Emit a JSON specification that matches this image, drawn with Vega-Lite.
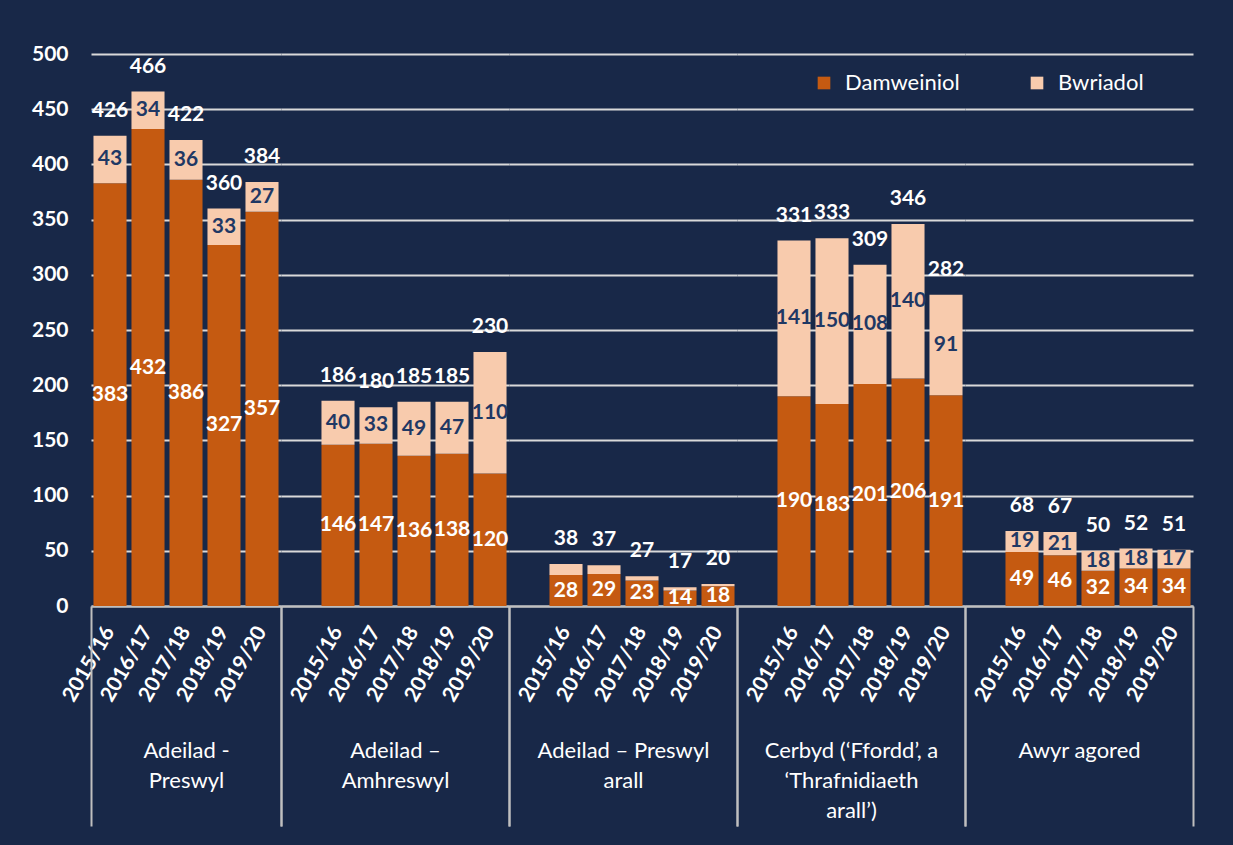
{
  "$schema": "https://vega.github.io/schema/vega-lite/v6.json",
  "background": "#182848",
  "padding": {"left": 31, "top": 43, "right": 44, "bottom": 20},
  "bounds": "flush",
  "spacing": 0,
  "data": {"values": [
    {"group": "Adeilad - Preswyl", "year": "2015/16", "series": "Damweiniol", "value": 383},
    {"group": "Adeilad - Preswyl", "year": "2015/16", "series": "Bwriadol", "value": 43},
    {"group": "Adeilad - Preswyl", "year": "2016/17", "series": "Damweiniol", "value": 432},
    {"group": "Adeilad - Preswyl", "year": "2016/17", "series": "Bwriadol", "value": 34},
    {"group": "Adeilad - Preswyl", "year": "2017/18", "series": "Damweiniol", "value": 386},
    {"group": "Adeilad - Preswyl", "year": "2017/18", "series": "Bwriadol", "value": 36},
    {"group": "Adeilad - Preswyl", "year": "2018/19", "series": "Damweiniol", "value": 327},
    {"group": "Adeilad - Preswyl", "year": "2018/19", "series": "Bwriadol", "value": 33},
    {"group": "Adeilad - Preswyl", "year": "2019/20", "series": "Damweiniol", "value": 357},
    {"group": "Adeilad - Preswyl", "year": "2019/20", "series": "Bwriadol", "value": 27},
    {"group": "Adeilad – Amhreswyl", "year": "2015/16", "series": "Damweiniol", "value": 146},
    {"group": "Adeilad – Amhreswyl", "year": "2015/16", "series": "Bwriadol", "value": 40},
    {"group": "Adeilad – Amhreswyl", "year": "2016/17", "series": "Damweiniol", "value": 147},
    {"group": "Adeilad – Amhreswyl", "year": "2016/17", "series": "Bwriadol", "value": 33},
    {"group": "Adeilad – Amhreswyl", "year": "2017/18", "series": "Damweiniol", "value": 136},
    {"group": "Adeilad – Amhreswyl", "year": "2017/18", "series": "Bwriadol", "value": 49},
    {"group": "Adeilad – Amhreswyl", "year": "2018/19", "series": "Damweiniol", "value": 138},
    {"group": "Adeilad – Amhreswyl", "year": "2018/19", "series": "Bwriadol", "value": 47},
    {"group": "Adeilad – Amhreswyl", "year": "2019/20", "series": "Damweiniol", "value": 120},
    {"group": "Adeilad – Amhreswyl", "year": "2019/20", "series": "Bwriadol", "value": 110},
    {"group": "Adeilad – Preswyl arall", "year": "2015/16", "series": "Damweiniol", "value": 28},
    {"group": "Adeilad – Preswyl arall", "year": "2015/16", "series": "Bwriadol", "value": 10},
    {"group": "Adeilad – Preswyl arall", "year": "2016/17", "series": "Damweiniol", "value": 29},
    {"group": "Adeilad – Preswyl arall", "year": "2016/17", "series": "Bwriadol", "value": 8},
    {"group": "Adeilad – Preswyl arall", "year": "2017/18", "series": "Damweiniol", "value": 23},
    {"group": "Adeilad – Preswyl arall", "year": "2017/18", "series": "Bwriadol", "value": 4},
    {"group": "Adeilad – Preswyl arall", "year": "2018/19", "series": "Damweiniol", "value": 14},
    {"group": "Adeilad – Preswyl arall", "year": "2018/19", "series": "Bwriadol", "value": 3},
    {"group": "Adeilad – Preswyl arall", "year": "2019/20", "series": "Damweiniol", "value": 18},
    {"group": "Adeilad – Preswyl arall", "year": "2019/20", "series": "Bwriadol", "value": 2},
    {"group": "Cerbyd", "year": "2015/16", "series": "Damweiniol", "value": 190},
    {"group": "Cerbyd", "year": "2015/16", "series": "Bwriadol", "value": 141},
    {"group": "Cerbyd", "year": "2016/17", "series": "Damweiniol", "value": 183},
    {"group": "Cerbyd", "year": "2016/17", "series": "Bwriadol", "value": 150},
    {"group": "Cerbyd", "year": "2017/18", "series": "Damweiniol", "value": 201},
    {"group": "Cerbyd", "year": "2017/18", "series": "Bwriadol", "value": 108},
    {"group": "Cerbyd", "year": "2018/19", "series": "Damweiniol", "value": 206},
    {"group": "Cerbyd", "year": "2018/19", "series": "Bwriadol", "value": 140},
    {"group": "Cerbyd", "year": "2019/20", "series": "Damweiniol", "value": 191},
    {"group": "Cerbyd", "year": "2019/20", "series": "Bwriadol", "value": 91},
    {"group": "Awyr agored", "year": "2015/16", "series": "Damweiniol", "value": 49},
    {"group": "Awyr agored", "year": "2015/16", "series": "Bwriadol", "value": 19},
    {"group": "Awyr agored", "year": "2016/17", "series": "Damweiniol", "value": 46},
    {"group": "Awyr agored", "year": "2016/17", "series": "Bwriadol", "value": 21},
    {"group": "Awyr agored", "year": "2017/18", "series": "Damweiniol", "value": 32},
    {"group": "Awyr agored", "year": "2017/18", "series": "Bwriadol", "value": 18},
    {"group": "Awyr agored", "year": "2018/19", "series": "Damweiniol", "value": 34},
    {"group": "Awyr agored", "year": "2018/19", "series": "Bwriadol", "value": 18},
    {"group": "Awyr agored", "year": "2019/20", "series": "Damweiniol", "value": 34},
    {"group": "Awyr agored", "year": "2019/20", "series": "Bwriadol", "value": 17}
  ]},
  "resolve": {"scale": {"x": "independent", "y": "shared", "color": "shared"}},
  "hconcat": [
    {
      "width": 190, "height": 552,
      "transform": [{"filter": "datum.group === 'Adeilad - Preswyl'"}],
      "layer": [
        {
          "encoding": {
            "x": {"field": "year", "type": "nominal",
              "scale": {"type": "band", "domain": ["2015/16","2016/17","2017/18","2018/19","2019/20"], "paddingInner": 0.13, "paddingOuter": 0.065},
              "axis": {"labelAngle": -60, "labelFontSize": 21, "labelFontWeight": "bold", "labelPadding": 22, "ticks": false, "domain": true,
                "title": ["Adeilad -", "Preswyl"], "titleFontSize": 22, "titleFontWeight": "normal", "titlePadding": 36, "titleLineHeight": 30}}
          },
          "layer": [
            {"mark": {"type": "bar"},
             "encoding": {
               "y": {"field": "value", "type": "quantitative", "stack": "zero",
                 "scale": {"domain": [0, 500], "nice": false},
                 "axis": {"values": [0,50,100,150,200,250,300,350,400,450,500], "labelFontSize": 21, "labelFontWeight": "bold", "labelPadding": 23, "ticks": false, "domain": false, "grid": true, "title": null}},
               "color": {"field": "series", "type": "nominal", "scale": {"domain": ["Damweiniol", "Bwriadol"], "range": ["#c55a11", "#f8cbad"]},
                 "legend": {"orient": "none", "legendX": 722, "legendY": 18, "direction": "horizontal", "title": null}},
               "order": {"field": "series", "sort": "descending"}
             }},
            {"transform": [{"filter": "datum.value >= 12"}],
             "mark": {"type": "text", "fontSize": 21, "fontWeight": "bold"},
             "encoding": {
               "y": {"field": "value", "type": "quantitative", "stack": "zero", "bandPosition": 0.5},
               "detail": {"field": "series"},
               "order": {"field": "series", "sort": "descending"},
               "text": {"field": "value", "type": "quantitative"},
               "color": {"condition": {"test": "datum.series === 'Bwriadol'", "value": "#1f3864"}, "value": "white"}
             }},
            {"mark": {"type": "text", "fontSize": 21, "fontWeight": "bold", "color": "white", "dy": -25},
             "encoding": {
               "y": {"aggregate": "sum", "field": "value", "type": "quantitative"},
               "text": {"aggregate": "sum", "field": "value", "type": "quantitative"}
             }}
          ]
        },
        {
          "mark": {"type": "point", "opacity": 0},
          "encoding": {
            "x": {"field": "group", "type": "nominal", "scale": {"type": "band", "paddingInner": 0, "paddingOuter": 0},
              "axis": {"orient": "top", "offset": -552, "tickBand": "extent", "tickSize": -220, "tickWidth": 2, "tickColor": "#bfbfbf", "labels": false, "domain": false, "title": null}}
          }
        }
      ],
      "resolve": {"scale": {"x": "independent"}, "axis": {"x": "independent"}}
    },
    {
      "width": 228, "height": 552,
      "transform": [{"filter": "datum.group === 'Adeilad – Amhreswyl'"}],
      "layer": [
        {
          "encoding": {
            "x": {"field": "year", "type": "nominal",
              "scale": {"type": "band", "domain": ["", "2015/16","2016/17","2017/18","2018/19","2019/20"], "paddingInner": 0.13, "paddingOuter": 0.065},
              "axis": {"labelAngle": -60, "labelFontSize": 21, "labelFontWeight": "bold", "labelPadding": 22, "ticks": false, "domain": true,
                "title": ["Adeilad –", "Amhreswyl"], "titleFontSize": 22, "titleFontWeight": "normal", "titlePadding": 36, "titleLineHeight": 30}}
          },
          "layer": [
            {"mark": {"type": "bar"},
             "encoding": {
               "y": {"field": "value", "type": "quantitative", "stack": "zero",
                 "scale": {"domain": [0, 500], "nice": false},
                 "axis": {"values": [0,50,100,150,200,250,300,350,400,450,500], "labels": false, "ticks": false, "domain": false, "grid": true, "title": null}},
               "color": {"field": "series", "type": "nominal", "scale": {"domain": ["Damweiniol", "Bwriadol"], "range": ["#c55a11", "#f8cbad"]},
                 "legend": {"orient": "none", "legendX": 722, "legendY": 18, "direction": "horizontal", "title": null}},
               "order": {"field": "series", "sort": "descending"}
             }},
            {"transform": [{"filter": "datum.value >= 12"}],
             "mark": {"type": "text", "fontSize": 21, "fontWeight": "bold"},
             "encoding": {
               "y": {"field": "value", "type": "quantitative", "stack": "zero", "bandPosition": 0.5},
               "detail": {"field": "series"},
               "order": {"field": "series", "sort": "descending"},
               "text": {"field": "value", "type": "quantitative"},
               "color": {"condition": {"test": "datum.series === 'Bwriadol'", "value": "#1f3864"}, "value": "white"}
             }},
            {"mark": {"type": "text", "fontSize": 21, "fontWeight": "bold", "color": "white", "dy": -25},
             "encoding": {
               "y": {"aggregate": "sum", "field": "value", "type": "quantitative"},
               "text": {"aggregate": "sum", "field": "value", "type": "quantitative"}
             }}
          ]
        },
        {
          "mark": {"type": "point", "opacity": 0},
          "encoding": {
            "x": {"field": "group", "type": "nominal", "scale": {"type": "band", "paddingInner": 0, "paddingOuter": 0},
              "axis": {"orient": "top", "offset": -552, "tickBand": "extent", "tickSize": -220, "tickWidth": 2, "tickColor": "#bfbfbf", "labels": false, "domain": false, "title": null}}
          }
        }
      ],
      "resolve": {"scale": {"x": "independent"}, "axis": {"x": "independent"}}
    },
    {
      "width": 228, "height": 552,
      "transform": [{"filter": "datum.group === 'Adeilad – Preswyl arall'"}],
      "layer": [
        {
          "encoding": {
            "x": {"field": "year", "type": "nominal",
              "scale": {"type": "band", "domain": ["", "2015/16","2016/17","2017/18","2018/19","2019/20"], "paddingInner": 0.13, "paddingOuter": 0.065},
              "axis": {"labelAngle": -60, "labelFontSize": 21, "labelFontWeight": "bold", "labelPadding": 22, "ticks": false, "domain": true,
                "title": ["Adeilad – Preswyl", "arall"], "titleFontSize": 22, "titleFontWeight": "normal", "titlePadding": 36, "titleLineHeight": 30}}
          },
          "layer": [
            {"mark": {"type": "bar"},
             "encoding": {
               "y": {"field": "value", "type": "quantitative", "stack": "zero",
                 "scale": {"domain": [0, 500], "nice": false},
                 "axis": {"values": [0,50,100,150,200,250,300,350,400,450,500], "labels": false, "ticks": false, "domain": false, "grid": true, "title": null}},
               "color": {"field": "series", "type": "nominal", "scale": {"domain": ["Damweiniol", "Bwriadol"], "range": ["#c55a11", "#f8cbad"]},
                 "legend": {"orient": "none", "legendX": 722, "legendY": 18, "direction": "horizontal", "title": null}},
               "order": {"field": "series", "sort": "descending"}
             }},
            {"transform": [{"filter": "datum.value >= 12"}],
             "mark": {"type": "text", "fontSize": 21, "fontWeight": "bold"},
             "encoding": {
               "y": {"field": "value", "type": "quantitative", "stack": "zero", "bandPosition": 0.5},
               "detail": {"field": "series"},
               "order": {"field": "series", "sort": "descending"},
               "text": {"field": "value", "type": "quantitative"},
               "color": {"condition": {"test": "datum.series === 'Bwriadol'", "value": "#1f3864"}, "value": "white"}
             }},
            {"mark": {"type": "text", "fontSize": 21, "fontWeight": "bold", "color": "white", "dy": -25},
             "encoding": {
               "y": {"aggregate": "sum", "field": "value", "type": "quantitative"},
               "text": {"aggregate": "sum", "field": "value", "type": "quantitative"}
             }}
          ]
        },
        {
          "mark": {"type": "point", "opacity": 0},
          "encoding": {
            "x": {"field": "group", "type": "nominal", "scale": {"type": "band", "paddingInner": 0, "paddingOuter": 0},
              "axis": {"orient": "top", "offset": -552, "tickBand": "extent", "tickSize": -220, "tickWidth": 2, "tickColor": "#bfbfbf", "labels": false, "domain": false, "title": null}}
          }
        }
      ],
      "resolve": {"scale": {"x": "independent"}, "axis": {"x": "independent"}}
    },
    {
      "width": 228, "height": 552,
      "transform": [{"filter": "datum.group === 'Cerbyd'"}],
      "layer": [
        {
          "encoding": {
            "x": {"field": "year", "type": "nominal",
              "scale": {"type": "band", "domain": ["", "2015/16","2016/17","2017/18","2018/19","2019/20"], "paddingInner": 0.13, "paddingOuter": 0.065},
              "axis": {"labelAngle": -60, "labelFontSize": 21, "labelFontWeight": "bold", "labelPadding": 22, "ticks": false, "domain": true,
                "title": ["Cerbyd (‘Ffordd’, a", "‘Thrafnidiaeth", "arall’)"], "titleFontSize": 22, "titleFontWeight": "normal", "titlePadding": 36, "titleLineHeight": 30}}
          },
          "layer": [
            {"mark": {"type": "bar"},
             "encoding": {
               "y": {"field": "value", "type": "quantitative", "stack": "zero",
                 "scale": {"domain": [0, 500], "nice": false},
                 "axis": {"values": [0,50,100,150,200,250,300,350,400,450,500], "labels": false, "ticks": false, "domain": false, "grid": true, "title": null}},
               "color": {"field": "series", "type": "nominal", "scale": {"domain": ["Damweiniol", "Bwriadol"], "range": ["#c55a11", "#f8cbad"]},
                 "legend": {"orient": "none", "legendX": 722, "legendY": 18, "direction": "horizontal", "title": null}},
               "order": {"field": "series", "sort": "descending"}
             }},
            {"transform": [{"filter": "datum.value >= 12"}],
             "mark": {"type": "text", "fontSize": 21, "fontWeight": "bold"},
             "encoding": {
               "y": {"field": "value", "type": "quantitative", "stack": "zero", "bandPosition": 0.5},
               "detail": {"field": "series"},
               "order": {"field": "series", "sort": "descending"},
               "text": {"field": "value", "type": "quantitative"},
               "color": {"condition": {"test": "datum.series === 'Bwriadol'", "value": "#1f3864"}, "value": "white"}
             }},
            {"mark": {"type": "text", "fontSize": 21, "fontWeight": "bold", "color": "white", "dy": -25},
             "encoding": {
               "y": {"aggregate": "sum", "field": "value", "type": "quantitative"},
               "text": {"aggregate": "sum", "field": "value", "type": "quantitative"}
             }}
          ]
        },
        {
          "mark": {"type": "point", "opacity": 0},
          "encoding": {
            "x": {"field": "group", "type": "nominal", "scale": {"type": "band", "paddingInner": 0, "paddingOuter": 0},
              "axis": {"orient": "top", "offset": -552, "tickBand": "extent", "tickSize": -220, "tickWidth": 2, "tickColor": "#bfbfbf", "labels": false, "domain": false, "title": null}}
          }
        }
      ],
      "resolve": {"scale": {"x": "independent"}, "axis": {"x": "independent"}}
    },
    {
      "width": 228, "height": 552,
      "transform": [{"filter": "datum.group === 'Awyr agored'"}],
      "layer": [
        {
          "encoding": {
            "x": {"field": "year", "type": "nominal",
              "scale": {"type": "band", "domain": ["", "2015/16","2016/17","2017/18","2018/19","2019/20"], "paddingInner": 0.13, "paddingOuter": 0.065},
              "axis": {"labelAngle": -60, "labelFontSize": 21, "labelFontWeight": "bold", "labelPadding": 22, "ticks": false, "domain": true,
                "title": ["Awyr agored"], "titleFontSize": 22, "titleFontWeight": "normal", "titlePadding": 36, "titleLineHeight": 30}}
          },
          "layer": [
            {"mark": {"type": "bar"},
             "encoding": {
               "y": {"field": "value", "type": "quantitative", "stack": "zero",
                 "scale": {"domain": [0, 500], "nice": false},
                 "axis": {"values": [0,50,100,150,200,250,300,350,400,450,500], "labels": false, "ticks": false, "domain": false, "grid": true, "title": null}},
               "color": {"field": "series", "type": "nominal", "scale": {"domain": ["Damweiniol", "Bwriadol"], "range": ["#c55a11", "#f8cbad"]},
                 "legend": {"orient": "none", "legendX": 722, "legendY": 18, "direction": "horizontal", "title": null}},
               "order": {"field": "series", "sort": "descending"}
             }},
            {"transform": [{"filter": "datum.value >= 12"}],
             "mark": {"type": "text", "fontSize": 21, "fontWeight": "bold"},
             "encoding": {
               "y": {"field": "value", "type": "quantitative", "stack": "zero", "bandPosition": 0.5},
               "detail": {"field": "series"},
               "order": {"field": "series", "sort": "descending"},
               "text": {"field": "value", "type": "quantitative"},
               "color": {"condition": {"test": "datum.series === 'Bwriadol'", "value": "#1f3864"}, "value": "white"}
             }},
            {"mark": {"type": "text", "fontSize": 21, "fontWeight": "bold", "color": "white", "dy": -25},
             "encoding": {
               "y": {"aggregate": "sum", "field": "value", "type": "quantitative"},
               "text": {"aggregate": "sum", "field": "value", "type": "quantitative"}
             }}
          ]
        },
        {
          "mark": {"type": "point", "opacity": 0},
          "encoding": {
            "x": {"field": "group", "type": "nominal", "scale": {"type": "band", "paddingInner": 0, "paddingOuter": 0},
              "axis": {"orient": "top", "offset": -552, "tickBand": "extent", "tickSize": -220, "tickWidth": 2, "tickColor": "#bfbfbf", "labels": false, "domain": false, "title": null}}
          }
        }
      ],
      "resolve": {"scale": {"x": "independent"}, "axis": {"x": "independent"}}
    }
  ],
  "config": {
    "font": "Lato",
    "view": {"stroke": null},
    "axis": {"labelColor": "white", "titleColor": "white", "gridColor": "#d9d9d9", "gridWidth": 2, "domainColor": "#bfbfbf", "domainWidth": 2, "labelFont": "Lato", "titleFont": "Lato"},
    "legend": {"labelColor": "white", "labelFontSize": 22, "labelFont": "Lato", "symbolType": "square", "symbolSize": 160, "symbolStrokeWidth": 0, "symbolOpacity": 1, "columnPadding": 66, "labelOffset": 10}
  }
}
